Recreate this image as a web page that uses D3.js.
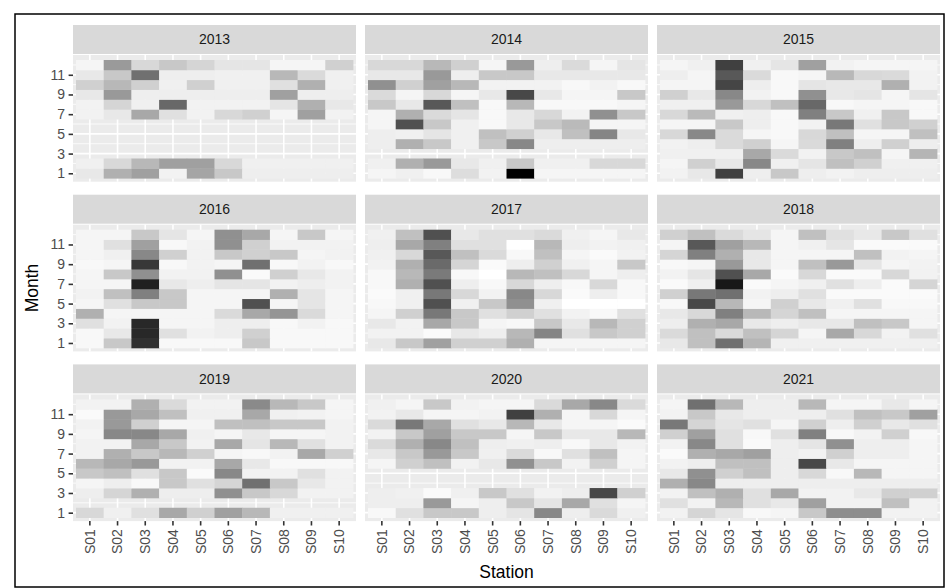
<!DOCTYPE html>
<html>
<head>
<meta charset="utf-8">
<script src="https://cdn.jsdelivr.net/npm/d3@7/dist/d3.min.js"></script>
<style>
  html, body { margin: 0; padding: 0; background: #ffffff; }
  svg { display: block; font-family: "Liberation Sans", Arial, sans-serif; }
</style>
</head>
<body>
<svg id="chart" width="945" height="588"></svg>
<script>
// ---------------- data ----------------
const stations = ["S01","S02","S03","S04","S05","S06","S07","S08","S09","S10"];
const years = [2013, 2014, 2015, 2016, 2017, 2018, 2019, 2020, 2021];
const monthTicks = [1, 3, 5, 7, 9, 11];
// each array: 12 rows (month 1 .. month 12), 10 stations per row; null = no data
const v2013 = [
  [23,79,95,13,90,55,17,17,17,17],
  [15,39,71,95,95,39,15,15,15,15],
  null, null, null, null,
  [13,23,87,31,13,39,47,10,95,13],
  [13,42,15,151,13,13,13,26,79,23],
  [23,102,17,17,17,17,17,95,17,17],
  [47,71,47,15,47,15,15,31,79,15],
  [23,55,143,17,17,15,15,71,37,15],
  [10,101,39,55,42,26,26,10,10,47]
];
const v2014 = [
  [10,15,7,34,13,255,10,10,10,10],
  [15,79,102,23,15,55,15,15,39,39],
  null,
  [17,79,55,15,55,119,17,17,17,17],
  [17,15,26,15,63,47,23,63,122,23],
  [10,175,55,15,7,23,55,69,10,10],
  [10,79,37,26,7,23,39,13,111,55],
  [55,23,167,63,7,71,7,7,7,10],
  [37,10,39,10,23,183,23,10,10,55],
  [111,47,95,71,13,13,13,7,13,7],
  [23,23,102,17,55,55,23,23,23,23],
  [39,39,71,47,10,102,17,37,10,26]
];
const v2015 = [
  [13,23,191,17,55,17,13,17,17,17],
  [10,47,23,119,15,26,63,47,15,15],
  [15,15,15,87,37,13,55,63,10,74],
  [13,17,37,47,10,37,127,17,47,17],
  [39,119,37,10,7,39,63,10,10,63],
  [10,10,55,17,7,13,135,31,55,47],
  [39,69,15,17,7,127,55,15,55,7],
  [15,15,102,39,63,151,7,10,10,7],
  [47,23,119,13,7,111,23,26,10,26],
  [10,10,186,17,7,26,23,23,79,13],
  [17,10,167,37,7,10,71,39,37,13],
  [10,15,191,15,26,95,13,10,10,10]
];
const v2016 = [
  [7,55,207,7,7,7,55,7,7,7],
  [7,23,215,31,13,17,47,7,7,7],
  [31,13,215,10,10,17,17,7,13,7],
  [79,10,10,10,10,37,87,106,37,10],
  [10,31,55,55,10,10,175,10,26,10],
  [13,63,127,55,10,10,10,79,26,10],
  [10,10,223,23,17,26,26,13,17,13],
  [10,55,111,13,13,111,5,47,23,13],
  [7,10,199,7,13,10,143,7,13,7],
  [10,15,119,47,13,55,47,55,10,13],
  [10,31,95,7,13,111,47,13,13,13],
  [10,10,55,26,10,111,87,10,55,10]
];
const v2017 = [
  [23,55,95,47,47,79,10,10,10,10],
  [13,13,5,23,17,71,122,31,55,47],
  [23,13,87,55,10,7,55,23,71,47],
  [10,47,135,55,31,47,31,13,7,31],
  [7,15,175,15,55,111,15,0,0,0],
  [5,15,135,39,13,119,39,5,17,7],
  [7,79,175,17,7,39,17,7,39,7],
  [7,71,133,7,0,71,63,39,10,17],
  [13,79,149,42,5,17,47,15,10,55],
  [15,39,167,63,37,7,63,10,5,13],
  [17,87,127,31,31,0,71,17,13,15],
  [15,63,175,23,31,31,37,15,10,23]
];
const v2018 = [
  [23,63,143,74,15,15,15,15,15,15],
  [37,63,37,63,42,10,87,39,13,31],
  [17,79,87,23,17,23,23,63,55,10],
  [23,39,127,71,42,63,10,10,10,10],
  [7,183,71,10,47,23,15,31,7,7],
  [47,135,143,13,17,31,5,5,5,5],
  [5,15,231,5,10,15,31,17,5,42],
  [13,26,175,87,5,39,5,5,39,13],
  [7,10,102,23,10,63,102,26,10,13],
  [42,127,79,23,10,10,10,63,13,10],
  [10,167,95,71,10,15,26,5,5,5],
  [47,63,37,26,10,63,31,23,55,31]
];
const v2019 = [
  [39,15,31,87,47,95,71,15,15,15],
  null,
  [17,42,79,17,17,111,55,39,13,13],
  [10,17,7,55,31,42,143,55,23,13],
  [55,63,31,55,5,119,13,13,31,13],
  [71,87,102,13,13,87,23,7,7,7],
  [13,79,55,71,47,10,7,13,87,47],
  [13,13,87,55,13,87,26,71,31,13],
  [10,119,119,87,15,10,23,10,10,13],
  [13,102,47,10,10,63,63,55,55,13],
  [5,102,87,63,15,15,87,15,13,10],
  [13,13,79,37,13,13,117,71,55,10]
];
const v2020 = [
  [7,31,55,55,17,26,119,17,37,15],
  [17,17,102,10,17,55,26,87,31,10],
  [17,15,5,15,55,31,13,17,183,47],
  null, null,
  [10,47,63,13,23,111,55,13,47,10],
  [23,55,102,55,15,37,7,31,63,10],
  [37,79,119,63,17,15,17,7,23,13],
  [13,55,95,55,55,10,55,23,23,71],
  [37,135,87,31,23,71,23,10,10,5],
  [13,23,10,10,13,191,79,10,39,10],
  [15,10,55,13,10,10,37,87,119,37]
];
const v2021 = [
  [13,42,26,7,10,55,113,113,13,13],
  [31,13,71,31,23,95,13,13,63,13],
  [13,63,79,31,87,13,13,23,47,47],
  [79,119,17,17,17,17,17,17,17,17],
  [23,111,47,63,17,39,7,71,10,10],
  [13,17,63,63,17,183,23,10,10,10],
  [5,79,87,95,17,13,47,17,17,10],
  [13,119,31,5,17,26,111,17,17,10],
  [47,95,31,7,31,127,7,13,47,7],
  [135,42,26,31,10,47,17,47,23,31],
  [13,55,23,17,17,17,31,63,55,95],
  [10,143,71,17,17,71,10,10,23,10]
];
const valuesByYear = [v2013, v2014, v2015, v2016, v2017, v2018, v2019, v2020, v2021];

// ---------------- layout ----------------
const svg = d3.select("#chart");
const panelLefts = [73, 365, 657];
const panelTops = [55, 224.7, 394.4];
const panelW = 283, panelH = 126.7, stripH = 29;

const x = d3.scaleBand().domain(stations).range([3, panelW - 3]);
const y = d3.scaleLinear().domain([0.5, 12.5]).range([panelH - 3.5, 5]);
const fill = d3.scaleLinear().domain([0, 255]).range(["#ffffff", "#000000"]);

svg.append("rect").attr("x", 0).attr("y", 0).attr("width", 945).attr("height", 588).attr("fill", "#ffffff");
svg.append("rect").attr("x", 15).attr("y", 14).attr("width", 929).attr("height", 573)
  .attr("fill", "none").attr("stroke", "#000").attr("stroke-width", 1.5);

years.forEach((yr, i) => {
  const col = i % 3, row = Math.floor(i / 3);
  const g = svg.append("g").attr("transform", `translate(${panelLefts[col]},${panelTops[row]})`);
  // strip
  g.append("rect").attr("x", 0).attr("y", -stripH - 1).attr("width", panelW).attr("height", stripH).attr("fill", "#D9D9D9");
  g.append("text").attr("x", panelW / 2).attr("y", -stripH / 2 - 1).attr("dy", "0.35em")
    .attr("text-anchor", "middle").attr("font-size", 14).attr("fill", "#1A1A1A").text(yr);
  // panel bg
  g.append("rect").attr("width", panelW).attr("height", panelH).attr("fill", "#EBEBEB");
  // grid
  const minor = [2, 4, 6, 8, 10, 12];
  g.selectAll(".gmin").data(minor).join("line")
    .attr("x1", 0).attr("x2", panelW).attr("y1", d => y(d)).attr("y2", d => y(d))
    .attr("stroke", "#fff").attr("stroke-width", 0.8);
  g.selectAll(".gmaj").data(monthTicks).join("line")
    .attr("x1", 0).attr("x2", panelW).attr("y1", d => y(d)).attr("y2", d => y(d))
    .attr("stroke", "#fff").attr("stroke-width", 1.6);
  g.selectAll(".gx").data(stations).join("line")
    .attr("x1", d => x(d) + x.bandwidth() / 2).attr("x2", d => x(d) + x.bandwidth() / 2)
    .attr("y1", 0).attr("y2", panelH).attr("stroke", "#fff").attr("stroke-width", 1.6);
  // tiles
  const cells = [];
  valuesByYear[i].forEach((rowVals, mi) => {
    if (!rowVals) return;
    rowVals.forEach((v, si) => { if (v !== null) cells.push({ m: mi + 1, s: stations[si], v }); });
  });
  const uh = Math.abs(y(1) - y(0));
  g.selectAll(".tile").data(cells).join("rect")
    .attr("x", d => x(d.s)).attr("width", x.bandwidth() + 0.4)
    .attr("y", d => y(d.m + 0.5)).attr("height", uh + 0.4)
    .attr("fill", d => fill(d.v));
  // axes
  if (col === 0) {
    const ax = g.append("g").call(d3.axisLeft(y).tickValues(monthTicks).tickSize(4.4).tickPadding(3.5));
    ax.select(".domain").remove();
    ax.selectAll(".tick line").attr("stroke", "#333333").attr("stroke-width", 1.6);
    ax.selectAll(".tick text").attr("font-size", 14).attr("fill", "#4D4D4D").attr("font-family", "Liberation Sans, Arial, sans-serif");
  }
  if (row === 2) {
    const ax = g.append("g").attr("transform", `translate(0,${panelH})`)
      .call(d3.axisBottom(x).tickSize(4.4).tickPadding(3.5));
    ax.select(".domain").remove();
    ax.selectAll(".tick line").attr("stroke", "#333333").attr("stroke-width", 1.6);
    ax.selectAll(".tick text").attr("font-size", 14).attr("fill", "#4D4D4D")
      .attr("font-family", "Liberation Sans, Arial, sans-serif")
      .attr("transform", "rotate(-90)").attr("text-anchor", "end")
      .attr("x", -8).attr("y", 0).attr("dy", "0.35em");
  }
});

// axis titles
svg.append("text").attr("x", (73 + 940) / 2).attr("y", 578).attr("text-anchor", "middle")
  .attr("font-size", 17.5).attr("fill", "#000").text("Station");
svg.append("text").attr("transform", `translate(38,${(55 + 521) / 2}) rotate(-90)`).attr("text-anchor", "middle")
  .attr("font-size", 17.5).attr("fill", "#000").text("Month");
</script>
</body>
</html>
